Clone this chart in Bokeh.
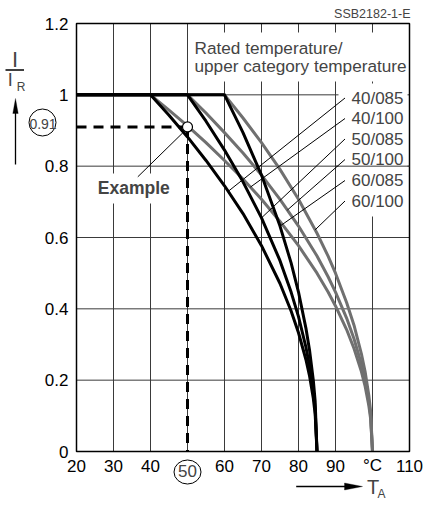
import numpy as np
from bokeh.plotting import figure
from bokeh.models import (Label, Arrow, BoxAnnotation, PolyAnnotation, Range1d)
from bokeh.core.properties import value
from bokeh.embed import file_html
from bokeh.resources import INLINE

# ---------------- data ----------------
x_ticks = [20, 30, 40, 50, 60, 70, 80, 90, 100, 110]
x_tick_labels = ["20", "30", "40", "", "60", "70", "80", "90", "°C", "110"]
y_ticks = [0, 0.2, 0.4, 0.6, 0.8, 1.0, 1.2]
y_tick_labels = ["0", "0.2", "0.4", "0.6", "0.8", "1", "1.2"]

series_names = ["40/085", "40/100", "50/085", "50/100", "60/085", "60/100"]

T_40_085 = [20, 40, 45, 50, 55, 60, 65, 70, 75, 78, 80, 82, 83, 84, 84.5, 85]
I_40_085 = [1.0, 1.0, 0.943, 0.882, 0.816, 0.745, 0.667, 0.577, 0.471, 0.394,
            0.333, 0.258, 0.211, 0.149, 0.105, 0.0]

T_40_100 = [20, 40, 45, 50, 55, 60, 65, 70, 75, 80, 85, 88, 90, 93, 95, 97, 98,
            99, 99.5, 100]
I_40_100 = [1.0, 1.0, 0.957, 0.913, 0.866, 0.816, 0.764, 0.707, 0.645, 0.577,
            0.5, 0.447, 0.408, 0.342, 0.289, 0.224, 0.183, 0.129, 0.091, 0.0]

T_50_085 = [20, 50, 55, 60, 65, 70, 75, 78, 80, 82, 83, 84, 84.5, 85]
I_50_085 = [1.0, 1.0, 0.926, 0.845, 0.756, 0.655, 0.535, 0.447, 0.378, 0.293,
            0.239, 0.169, 0.12, 0.0]

T_50_100 = [20, 50, 55, 60, 65, 70, 75, 80, 85, 88, 90, 93, 95, 97, 98, 99,
            99.5, 100]
I_50_100 = [1.0, 1.0, 0.949, 0.894, 0.837, 0.775, 0.707, 0.632, 0.548, 0.49,
            0.447, 0.374, 0.316, 0.245, 0.2, 0.141, 0.1, 0.0]

T_60_085 = [20, 60, 65, 70, 75, 78, 80, 82, 83, 84, 84.5, 85]
I_60_085 = [1.0, 1.0, 0.894, 0.775, 0.632, 0.529, 0.447, 0.346, 0.283, 0.2,
            0.141, 0.0]

T_60_100 = [20, 60, 65, 70, 75, 80, 85, 88, 90, 93, 95, 97, 98, 99, 99.5, 100]
I_60_100 = [1.0, 1.0, 0.935, 0.866, 0.791, 0.707, 0.612, 0.548, 0.5, 0.418,
            0.354, 0.274, 0.224, 0.158, 0.112, 0.0]

# temperature on each curve where its label's leader line ends
leader_T = [61, 67, 70, 77, 75, 84.5]

example_T = 50
example_I = 0.91

# ---------------- layout helpers (page pixel -> data) ----------------
FRAME_L, FRAME_T, FRAME_W, FRAME_H = 77, 24, 333, 428
X0, X1 = x_ticks[0], x_ticks[-1]
Y0, Y1 = y_ticks[0], y_ticks[-1]
OFF = 1            # page offset of the canvas
W, H = 424, 503    # canvas size


def X(px):
    return X0 + (px - FRAME_L) * (X1 - X0) / FRAME_W


def Y(py):
    return Y0 + (FRAME_T + FRAME_H - py) * (Y1 - Y0) / FRAME_H


FONT = "Liberation Sans"
GRID = "#3a3a3a"
GRAY = "#707070"

curves = {
    "40/085": (T_40_085, I_40_085),
    "40/100": (T_40_100, I_40_100),
    "50/085": (T_50_085, I_50_085),
    "50/100": (T_50_100, I_50_100),
    "60/085": (T_60_085, I_60_085),
    "60/100": (T_60_100, I_60_100),
}

p = figure(width=W, height=H,
           x_range=Range1d(X(OFF), X(OFF + W)),
           y_range=Range1d(Y(OFF + H), Y(OFF)),
           output_backend="svg", toolbar_location=None,
           x_axis_location=None, y_axis_location=None,
           min_border=0, min_border_left=0, min_border_right=0,
           min_border_top=0, min_border_bottom=0)
p.background_fill_color = "white"
p.border_fill_color = "white"
p.outline_line_color = None
p.grid.visible = False

# grid lines
p.segment(x0=x_ticks, y0=[Y0] * len(x_ticks), x1=x_ticks,
          y1=[Y1] * len(x_ticks), line_color=GRID, line_width=1)
p.segment(x0=[X0] * len(y_ticks), y0=y_ticks, x1=[X1] * len(y_ticks),
          y1=y_ticks, line_color=GRID, line_width=1)

# tick labels
p.text(x=x_ticks, y=[Y(466)] * len(x_ticks), text=x_tick_labels,
       text_font=value(FONT), text_font_size=value("17px"),
       text_align="center", text_baseline="middle", text_color="black")
p.text(x=[X(69)] * len(y_ticks), y=y_ticks, text=y_tick_labels,
       text_font=value(FONT), text_font_size=value("17px"),
       text_align="right", text_baseline="middle", text_color="black")

# example dashed lines
p.line([X0, example_T], [example_I, example_I], line_color="black",
       line_width=3, line_dash="10 7")
p.line([example_T, example_T], [example_I, Y0], line_color="black",
       line_width=3, line_dash="10 7")

# curves: gray (x/100) first, then black (x/085)
for name in series_names:
    if name.endswith("100"):
        T, I = curves[name]
        p.line(T, I, line_color=GRAY, line_width=3, line_join="round")
for name in series_names:
    if name.endswith("085"):
        T, I = curves[name]
        p.line(T, I, line_color="black", line_width=3, line_join="round")

p.scatter([example_T], [example_I], size=10, fill_color="white",
          line_color="black", line_width=1.2)

# white boxes behind texts
for (l, r, t, b) in [(192, 408, 33, 82), (339, 408, 84, 217),
                     (96, 172, 174, 204)]:
    p.add_layout(BoxAnnotation(left=X(l), right=X(r), top=Y(t), bottom=Y(b),
                               fill_color="white", fill_alpha=1.0,
                               line_alpha=0))

# grid line at 0.8 that passes between the labels
p.add_layout(Arrow(x_start=90, y_start=0.8, x_end=X1, y_end=0.8, end=None,
                   line_color=GRID, line_width=1))

# frame
p.quad(left=[X0], right=[X1], bottom=[Y0], top=[Y1], fill_color=None,
       line_color="black", line_width=1.5)


def label(px, py, text, size, align="left", bold=False, font=FONT):
    p.add_layout(Label(x=X(px), y=Y(py), text=text, text_font=font,
                       text_font_size=size, text_align=align,
                       text_baseline="middle",
                       text_font_style="bold" if bold else "normal"))


# title text
label(195, 48.5, "Rated temperature/", "17.2px")
label(195, 66.5, "upper category temperature", "17.2px")

# curve labels + leaders
label_py = [98.5, 119, 139.5, 160, 181, 201.5]
for name, py, tT in zip(series_names, label_py, leader_T):
    T, I = curves[name]
    yI = float(np.interp(tT, T, I))
    p.add_layout(Arrow(x_start=X(345.5), y_start=Y(py), x_end=tT, y_end=yI,
                       end=None, line_color="black", line_width=1))
    label(352, py, name, "17px")

# Example label + leader
p.add_layout(Arrow(x_start=X(138.3), y_start=Y(177.3), x_end=X(183.3),
                   y_end=Y(133.3), end=None, line_color="black", line_width=1))
label(98.3, 188.5, "Example", "17.5px", bold=True)

# code
label(411, 14.2, "SSB2182-1-E", "12.5px", align="right")

# circled 0.91
p.ellipse(x=[X(43)], y=[Y(123)], width=27, height=27, width_units="screen",
          height_units="screen", fill_color=None, line_color="black",
          line_width=1)
label(43.5, 124.5, f"{example_I:.2f}", "14px", align="center",
      font="'Liberation Sans Narrow', 'Liberation Sans'")

# circled 50
p.ellipse(x=[example_T], y=[Y(472.5)], width=27, height=24,
          width_units="screen", height_units="screen", fill_color=None,
          line_color="black", line_width=1)
p.add_layout(Label(x=example_T, y=Y(471.5), text=str(example_T),
                   text_font=FONT, text_font_size="17px", text_align="center",
                   text_baseline="middle"))

# y quantity label I / I_R with arrow
label(15.5, 60, "I", "22px", align="center")
p.add_layout(Arrow(x_start=X(6), y_start=Y(70.5), x_end=X(24.5),
                   y_end=Y(70.5), end=None, line_color="black", line_width=1.5))
label(10.7, 80.7, "I", "18px", align="center")
label(17.3, 87.5, "R", "12px")
p.add_layout(Arrow(x_start=X(16), y_start=Y(165), x_end=X(16), y_end=Y(112),
                   end=None, line_color="black", line_width=1.3))
p.add_layout(PolyAnnotation(xs=[X(16), X(13.3), X(18.7)],
                            ys=[Y(99), Y(114), Y(114)], fill_color="black",
                            fill_alpha=1, line_color="black", line_width=1))

# x quantity label -> T_A
AY = 487
p.add_layout(Arrow(x_start=X(296.7), y_start=Y(AY), x_end=X(347),
                   y_end=Y(AY), end=None, line_color="black",
                   line_width=1.3))
p.add_layout(PolyAnnotation(xs=[X(363), X(345), X(345)],
                            ys=[Y(AY), Y(AY - 3.5), Y(AY + 3.5)],
                            fill_color="black", fill_alpha=1,
                            line_color="black", line_width=1))
label(367.5, AY, "T", "20px")
label(378, AY + 7, "A", "12px")

open("out.html", "w").write(file_html(p, INLINE))
